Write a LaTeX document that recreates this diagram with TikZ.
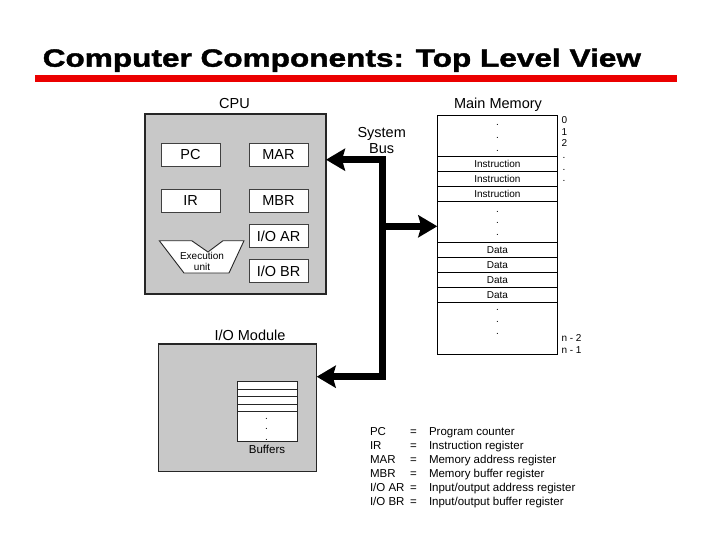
\documentclass[tikz,border=0pt]{standalone}
\usepackage{fontspec}
\setmainfont{Liberation Sans}
\newfontfamily\titlefont[FakeBold=1.6, FakeStretch=1.263]{Liberation Sans}
\usetikzlibrary{arrows.meta}
\definecolor{boxgray}{RGB}{200,200,200}
\definecolor{titlered}{RGB}{235,0,0}
\begin{document}
\begin{tikzpicture}[x=1pt,y=-1pt,
  every node/.style={inner sep=0pt, outer sep=0pt},
  panel/.style={draw=black!85, line width=1.3pt, fill=boxgray, anchor=north west},
  reg/.style={draw=black!75, line width=0.8pt, fill=white, anchor=north west,
    minimum width=59pt, minimum height=23pt, text height=10.4pt, text depth=0pt,
    font=\fontsize{14.5}{16}\selectfont},
  memrow/.style={draw=black, line width=0.9pt, fill=white, anchor=north west,
    minimum width=120.3pt, minimum height=15pt, text height=7.2pt, text depth=0pt,
    font=\fontsize{10}{11}\selectfont},
  lbl/.style={anchor=base, font=\fontsize{14.5}{16}\selectfont},
  small/.style={anchor=base west, font=\fontsize{10}{11}\selectfont},
  dotmark/.style={font=\fontsize{10}{11}\selectfont},
  legend/.style={anchor=base west, font=\fontsize{11.5}{13}\selectfont},
  bus/.style={line width=6.5pt, line join=miter, draw=black},
  >={Stealth[length=19pt, width=22pt, inset=3pt]}
]
\useasboundingbox (0,0) rectangle (720,540);

% title
\node[anchor=base west, font=\titlefont\bfseries\fontsize{25}{30}\selectfont] (title) at (42.7,66.7)
  {Computer Components: Top Level View};
\fill[titlered] (35,75.3) rectangle (677.3,82);

% CPU
\node[lbl] (cpulbl) at (234.5,108.2) {CPU};
\node[panel, minimum width=181pt, minimum height=180pt] (cpu) at (145,114) {};
\node[reg] (pc) at (161,143) {PC};
\node[reg] (mar) at (249,143) {MAR};
\node[reg] (ir) at (161,189) {IR};
\node[reg] (mbr) at (249,189) {MBR};
\node[reg] (ioar) at (249,224.5) {I/O AR};
\node[reg] (iobr) at (249,259.5) {I/O BR};
\draw[draw=black!85, line width=0.9pt, fill=white]
  (159.3,240.7) -- (191.7,240.7) -- (208,252) -- (223,240.7) -- (244,240.7)
  -- (229,273) -- (184,273) -- cycle;
\node[align=center, font=\fontsize{10}{10.7}\selectfont] (exu) at (202,261.5) {Execution\\unit};

% Main memory
\node[lbl] (memlbl) at (498,108.3) {Main Memory};
\node[draw=black, line width=0.9pt, fill=white, anchor=north west,
  minimum width=120.3pt, minimum height=239.3pt] (mem) at (437.3,115) {};
\node[memrow] (ins1) at (437.3,156) {Instruction};
\node[memrow] (ins2) at (437.3,171) {Instruction};
\node[memrow] (ins3) at (437.3,186) {Instruction};
\node[memrow] (dat1) at (437.3,242.3) {Data};
\node[memrow] (dat2) at (437.3,257.3) {Data};
\node[memrow] (dat3) at (437.3,272.3) {Data};
\node[memrow] (dat4) at (437.3,287.3) {Data};
\foreach \y [count=\i] in {125,138,151, 211.7,223,235, 310,321.7,334}
  \node[dotmark] (md\i) at (497.5,\y) {.};
% addresses
\node[small] (a0) at (561.5,123.6) {0};
\node[small] (a1) at (561.5,135.3) {1};
\node[small] (a2) at (561.5,146.9) {2};
\foreach \y [count=\i] in {158,170,181}
  \node[dotmark] (ad\i) at (564,\y) {.};
\node[small] (an2) at (561.5,341) {n - 2};
\node[small] (an1) at (561.5,353.6) {n - 1};

% System bus
\node[lbl] (sys) at (381.7,137.7) {System};
\node[lbl] (busl) at (381.7,153.3) {Bus};

% I/O module
\node[lbl] (iolbl) at (250,340.7) {I/O Module};
\node[panel, minimum width=158.4pt, minimum height=127.7pt] (io) at (158.3,344) {};
\node[draw=black!85, line width=0.9pt, fill=white, anchor=north west,
  minimum width=60pt, minimum height=59.7pt] (buf) at (237.3,381.3) {};
\foreach \y in {389,396.7,404.3,411.3}
  \draw[black!85, line width=0.9pt] (buf.west |- 0,\y) -- (buf.east |- 0,\y);
\foreach \y [count=\i] in {419.3,429,440}
  \node[dotmark] (bd\i) at (266.5,\y) {.};
\node[anchor=base, font=\fontsize{11.5}{13}\selectfont] (buflbl) at (267,453.3) {Buffers};

% bus connectors
\coordinate (bustop) at (382.7,159.7);
\coordinate (busmid) at (382.7,226.3);
\coordinate (busbot) at (382.7,376.7);
\draw[bus, <->] (cpu.east |- bustop) -- (bustop) -- (busbot) -- (io.east |- busbot);
\draw[bus, ->] (busmid) -- (mem.west |- busmid);

% legend
\node[legend] (lga1) at (370,435.7) {PC};
\node[legend] (lgb1) at (410,435.7) {=};
\node[legend] (lgc1) at (429,435.7) {Program counter};
\node[legend] (lga2) at (370,449.6) {IR};
\node[legend] (lgb2) at (410,449.6) {=};
\node[legend] (lgc2) at (429,449.6) {Instruction register};
\node[legend] (lga3) at (370,463.5) {MAR};
\node[legend] (lgb3) at (410,463.5) {=};
\node[legend] (lgc3) at (429,463.5) {Memory address register};
\node[legend] (lga4) at (370,477.4) {MBR};
\node[legend] (lgb4) at (410,477.4) {=};
\node[legend] (lgc4) at (429,477.4) {Memory buffer register};
\node[legend] (lga5) at (370,491.3) {I/O AR};
\node[legend] (lgb5) at (410,491.3) {=};
\node[legend] (lgc5) at (429,491.3) {Input/output address register};
\node[legend] (lga6) at (370,505.2) {I/O BR};
\node[legend] (lgb6) at (410,505.2) {=};
\node[legend] (lgc6) at (429,505.2) {Input/output buffer register};
\end{tikzpicture}
\end{document}
